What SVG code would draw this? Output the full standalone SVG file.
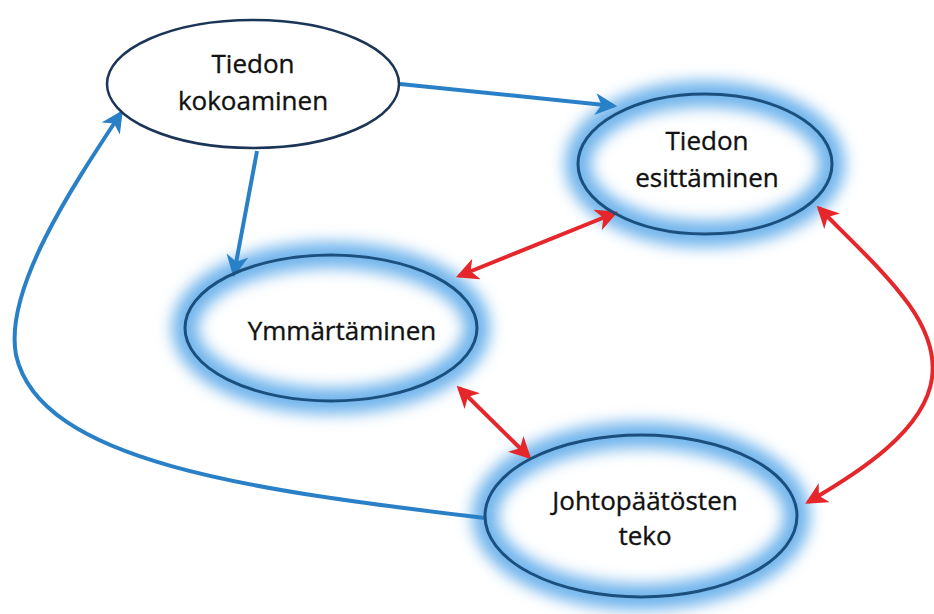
<svg xmlns="http://www.w3.org/2000/svg" width="934" height="614" viewBox="0 0 934 614">
  <defs>
    <filter id="glow" x="-30%" y="-30%" width="160%" height="160%">
      <feGaussianBlur stdDeviation="7.5"/>
    </filter>
    <marker id="arrBlue" viewBox="0 0 10 10" refX="8.5" refY="5" markerWidth="5.5" markerHeight="5.5" orient="auto-start-reverse" markerUnits="strokeWidth">
      <path d="M0,0 L10,5 L0,10 L2.8,5 z" fill="#2a80c6"/>
    </marker>
    <marker id="arrRed" viewBox="0 0 10 10" refX="8.5" refY="5" markerWidth="5.5" markerHeight="5.5" orient="auto-start-reverse" markerUnits="strokeWidth">
      <path d="M0,0 L10,5 L0,10 L2.8,5 z" fill="#e5262a"/>
    </marker>
  </defs>
  <style>
    .halo { fill: none; stroke: #6fb4ec; stroke-width: 26; filter: url(#glow); }
    .rim { fill: none; stroke: #1b4f7e; stroke-width: 3; }
    .plain { fill: #ffffff; stroke: #1a3556; stroke-width: 2.5; }
    .lbl { font-family: "Open Sans", "Noto Sans", sans-serif; font-size: 26px; fill: #111111; stroke: #111111; stroke-width: 0.35; text-anchor: middle; }
    .blue { fill: none; stroke: #2a80c6; stroke-width: 4; marker-end: url(#arrBlue); }
    .red { fill: none; stroke: #e5262a; stroke-width: 4; marker-start: url(#arrRed); marker-end: url(#arrRed); }
  </style>

  <rect width="934" height="614" fill="#ffffff"/>

  <!-- soft blue halos sit beneath the connectors -->
  <g id="halos">
    <ellipse class="halo" cx="705" cy="164" rx="127" ry="70"/>
    <ellipse class="halo" cx="331" cy="328" rx="146" ry="73"/>
    <ellipse class="halo" cx="641" cy="516" rx="156" ry="81"/>
  </g>

  <!-- connectors -->
  <g id="connectors">
    <path class="blue" d="M400,84 L614,106"/>
    <path class="blue" d="M257,151 L234,274"/>
    <path class="blue" d="M485,518 C250,490 40,462 16,355 C4,290 70,190 121,113"/>
    <path class="red" d="M459,276 L615,213"/>
    <path class="red" d="M459,388 L529,457"/>
    <path class="red" d="M819,208 C880,270 940,320 932,378 C925,430 860,472 808,502"/>
  </g>

  <g id="node-kokoaminen">
    <ellipse class="plain" cx="253" cy="84" rx="146" ry="64"/>
    <text class="lbl" x="253" y="73">Tiedon</text>
    <text class="lbl" x="253" y="110">kokoaminen</text>
  </g>

  <g id="node-esittaminen">
    <ellipse class="rim" cx="705" cy="164" rx="127" ry="70"/>
    <text class="lbl" x="707" y="150">Tiedon</text>
    <text class="lbl" x="707" y="187">esittäminen</text>
  </g>

  <g id="node-ymmartaminen">
    <ellipse class="rim" cx="331" cy="328" rx="146" ry="73"/>
    <text class="lbl" x="342" y="340">Ymmärtäminen</text>
  </g>

  <g id="node-johtopaatokset">
    <ellipse class="rim" cx="641" cy="516" rx="156" ry="81"/>
    <text class="lbl" x="645" y="510">Johtopäätösten</text>
    <text class="lbl" x="645" y="545">teko</text>
  </g>
</svg>
